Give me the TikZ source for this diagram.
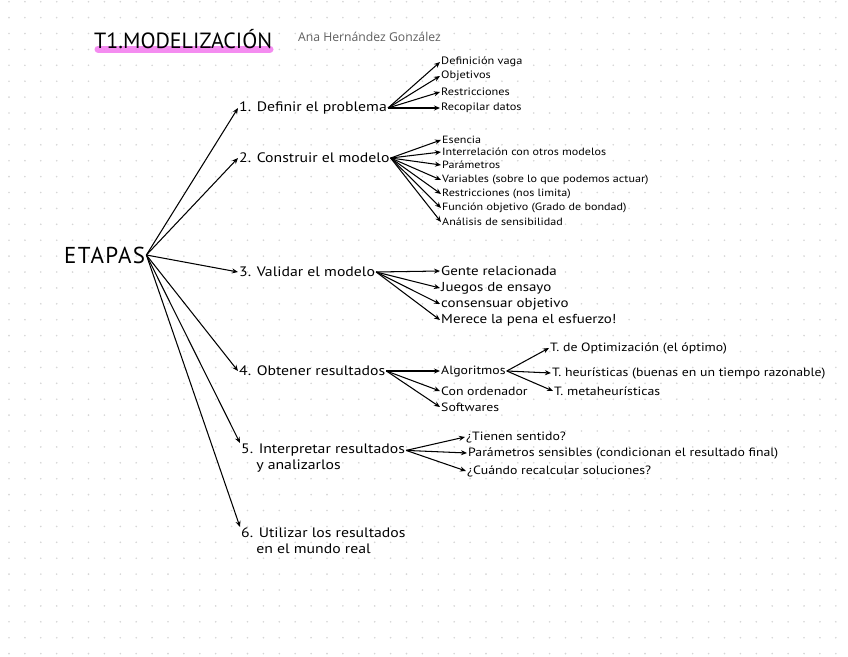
\documentclass[tikz,border=0pt]{standalone}
\usepackage{fontspec}
\setmainfont{PT Sans}
\newfontfamily\handfont{PT Sans}[FakeStretch=1.15]
\newfontfamily\namefont{Open Sans}
\usetikzlibrary{arrows.meta}
\definecolor{gridgray}{RGB}{214,214,214}
\definecolor{marker}{RGB}{243,120,238}
\definecolor{namegray}{RGB}{95,95,95}

\begin{document}
\begin{tikzpicture}[
    x=1pt, y=-1pt,
    every node/.style={inner sep=1pt},
    stage/.style={anchor=west, align=left, font=\handfont\fontsize{13.7}{16}\selectfont},
    item/.style={anchor=west, font=\handfont\fontsize{12}{14}\selectfont},
    bigitem/.style={anchor=west, font=\handfont\fontsize{13}{15}\selectfont},
    smallitem/.style={anchor=west, font=\handfont\fontsize{10.7}{12}\selectfont},
    tinyitem/.style={anchor=west, font=\handfont\fontsize{10.5}{12}\selectfont},
    flow/.style={-{Stealth[length=6pt,width=5pt]}, line width=1.05pt}
]
\useasboundingbox[fill=white] (0,0) rectangle (848,656);
\foreach \gx in {0,...,52}
  \foreach \gy in {0,...,41}
    \fill[gridgray] (9+\gx*15.9, 1.7+\gy*15.9) circle (0.9);

\draw[marker, line width=7pt, line cap=round, opacity=0.85] (98,49) -- (270,49);
\node[anchor=west, font=\fontsize{22}{24}\selectfont] (title) at (93,39) {T1.MODELIZACIÓN};
\node[anchor=west, text=namegray, font=\namefont\fontsize{12.2}{14}\selectfont] (author) at (297,37) {Ana Hernández González};

\node[anchor=west, font=\addfontfeature{LetterSpace=6}\fontsize{23}{25}\selectfont] (etapas) at (63,255) {ETAPAS};

\node[stage] (s1) at (238,108) {1. Definir el problema};
\node[stage] (s2) at (238,158) {2. Construir el modelo};
\node[stage] (s3) at (238,272) {3. Validar el modelo};
\node[stage] (s4) at (238,371) {4. Obtener resultados};
\node[stage, anchor=north west] (s5) at (240,443) {5. Interpretar resultados\\\hspace*{1.1em}y analizarlos};
\node[stage, anchor=north west] (s6) at (240,527) {6. Utilizar los resultados\\\hspace*{1.1em}en el mundo real};

\node[smallitem] (d1) at (440,62) {Definición vaga};
\node[smallitem] (d2) at (440,76) {Objetivos};
\node[smallitem] (d3) at (440,92) {Restricciones};
\node[smallitem] (d4) at (440,108) {Recopilar datos};

\node[tinyitem] (c1) at (441,140) {Esencia};
\node[tinyitem] (c2) at (441,152) {Interrelación con otros modelos};
\node[tinyitem] (c3) at (441,165) {Parámetros};
\node[tinyitem] (c4) at (441,180) {Variables (sobre lo que podemos actuar)};
\node[tinyitem] (c5) at (441,194) {Restricciones (nos limita)};
\node[tinyitem] (c6) at (441,208) {Función objetivo (Grado de bondad)};
\node[tinyitem] (c7) at (441,222) {Análisis de sensibilidad};

\node[bigitem] (v1) at (440,271) {Gente relacionada};
\node[bigitem] (v2) at (440,288) {Juegos de ensayo};
\node[bigitem] (v3) at (440,304) {consensuar objetivo};
\node[bigitem] (v4) at (440,320) {Merece la pena el esfuerzo!};

\node[item] (o1) at (440,371) {Algoritmos};
\node[item] (o2) at (440,391) {Con ordenador};
\node[item] (o3) at (440,407) {Softwares};

\node[item] (a1) at (549,348) {T. de Optimización (el óptimo)};
\node[item] (a2) at (551,373) {T. heurísticas (buenas en un tiempo razonable)};
\node[item] (a3) at (553,391) {T. metaheurísticas};

\node[item] (i1) at (465,437) {¿Tienen sentido?};
\node[item] (i2) at (467,453) {Parámetros sensibles (condicionan el resultado final)};
\node[item] (i3) at (466,471) {¿Cuándo recalcular soluciones?};

\draw[flow] (etapas.east) -- (s1.west);
\draw[flow] (etapas.east) -- (s2.west);
\draw[flow] (etapas.east) -- (s3.west);
\draw[flow] (etapas.east) -- (s4.west);
\draw[flow] (etapas.east) -- (s5.north west);
\draw[flow] (etapas.east) -- (s6.north west);

\draw[flow] (s1.east) -- (d1.west);
\draw[flow] (s1.east) -- (d2.west);
\draw[flow] (s1.east) -- (d3.west);
\draw[flow] (s1.east) -- (d4.west);

\draw[flow] (s2.east) -- (c1.west);
\draw[flow] (s2.east) -- (c2.west);
\draw[flow] (s2.east) -- (c3.west);
\draw[flow] (s2.east) -- (c4.west);
\draw[flow] (s2.east) -- (c5.west);
\draw[flow] (s2.east) -- (c6.west);
\draw[flow] (s2.east) -- (c7.west);

\draw[flow] (s3.east) -- (v1.west);
\draw[flow] (s3.east) -- (v2.west);
\draw[flow] (s3.east) -- (v3.west);
\draw[flow] (s3.east) -- (v4.west);

\draw[flow] (s4.east) -- (o1.west);
\draw[flow] (s4.east) -- (o2.west);
\draw[flow] (s4.east) -- (o3.west);

\draw[flow] (o1.east) -- (a1.west);
\draw[flow] (o1.east) -- (a2.west);
\draw[flow] (o1.east) -- (a3.west);

\draw[flow] ([yshift=8pt]s5.east) -- (i1.west);
\draw[flow] ([yshift=8pt]s5.east) -- (i2.west);
\draw[flow] ([yshift=8pt]s5.east) -- (i3.west);
\end{tikzpicture}
\end{document}
